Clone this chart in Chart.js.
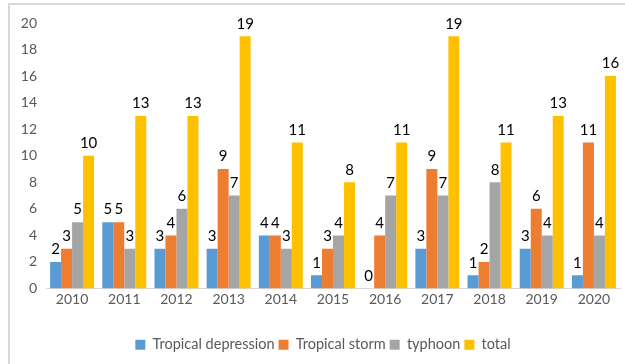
<!DOCTYPE html>
<html>
<head>
<meta charset="utf-8">
<script src="https://cdn.jsdelivr.net/npm/chart.js@4/dist/chart.umd.min.js"></script>
<style>
  html, body { margin: 0; padding: 0; background: #fff; }
  #wrap { position: relative; width: 625px; height: 364px; }
</style>
</head>
<body>
<div id="wrap"><canvas id="c" width="625" height="364"></canvas></div>
<script>
// Yearly counts of tropical cyclones by intensity
const years = ['2010', '2011', '2012', '2013', '2014', '2015', '2016', '2017', '2018', '2019', '2020'];
const tropicalDepression = [2, 5, 3, 3, 4, 1, 0, 3, 1, 3, 1];
const tropicalStorm      = [3, 5, 4, 9, 4, 3, 4, 9, 2, 6, 11];
const typhoon            = [5, 3, 6, 7, 3, 4, 7, 7, 8, 4, 4];
const total              = [10, 13, 13, 19, 11, 8, 11, 19, 11, 13, 16];
const yTicks = [0, 2, 4, 6, 8, 10, 12, 14, 16, 18, 20];

const FONT = 'Lato, "Open Sans", sans-serif';

// Light frame along the top and left edges
const framePlugin = {
  id: 'frame',
  beforeDraw(chart) {
    const ctx = chart.ctx;
    ctx.save();
    ctx.fillStyle = '#fff';
    ctx.fillRect(0, 0, chart.width, chart.height);
    ctx.strokeStyle = '#D9D9D9';
    ctx.lineWidth = 2;
    ctx.beginPath();
    ctx.moveTo(9, chart.height);
    ctx.lineTo(9, 4);
    ctx.lineTo(chart.width, 4);
    ctx.stroke();
    ctx.restore();
  }
};

// Centre the legend under the plot area rather than the whole canvas
const legendShift = {
  id: 'legendShift',
  afterLayout(chart) {
    const lg = chart.legend;
    if (lg) { lg.left += 13; lg.right += 13; }
  }
};

// Value written above each bar
const valueLabels = {
  id: 'valueLabels',
  afterDatasetsDraw(chart) {
    const ctx = chart.ctx;
    ctx.save();
    ctx.font = '15px ' + FONT;
    ctx.fillStyle = '#000';
    ctx.textAlign = 'center';
    ctx.textBaseline = 'bottom';
    chart.data.datasets.forEach((ds, i) => {
      const meta = chart.getDatasetMeta(i);
      meta.data.forEach((bar, j) => {
        ctx.fillText(String(ds.data[j]), bar.x, bar.y - 5);
      });
    });
    ctx.restore();
  }
};

new Chart(document.getElementById('c'), {
  type: 'bar',
  data: {
    labels: years,
    datasets: [
      { label: 'Tropical depression', data: tropicalDepression, backgroundColor: '#5B9BD5' },
      { label: 'Tropical storm', data: tropicalStorm, backgroundColor: '#ED7D31' },
      { label: 'typhoon', data: typhoon, backgroundColor: '#A5A5A5' },
      { label: 'total', data: total, backgroundColor: '#FFC000' }
    ]
  },
  options: {
    responsive: false,
    animation: false,
    layout: { padding: { top: 23, right: 5, left: 0, bottom: 2 } },
    datasets: { bar: { categoryPercentage: 0.843, barPercentage: 1.0 } },
    scales: {
      x: {
        grid: { display: false, drawTicks: false },
        border: { display: true, color: '#D9D9D9', width: 1 },
        ticks: { color: '#595959', font: { family: FONT, size: 14 }, padding: 3 },
        afterFit(scale) { scale.height = 45; }
      },
      y: {
        min: 0, max: 20,
        afterBuildTicks(scale) { scale.ticks = yTicks.map(v => ({ value: v })); },
        grid: { display: false, drawTicks: false },
        border: { display: false },
        ticks: { color: '#595959', font: { family: FONT, size: 14 }, padding: 9 },
        afterFit(scale) { scale.width = 46; }
      }
    },
    plugins: {
      legend: {
        position: 'bottom',
        labels: {
          color: '#595959',
          font: { family: FONT, size: 14.5 },
          boxWidth: 10, boxHeight: 10,
          padding: 4
        }
      },
      tooltip: { enabled: false }
    }
  },
  plugins: [framePlugin, legendShift, valueLabels]
});
</script>
</body>
</html>
